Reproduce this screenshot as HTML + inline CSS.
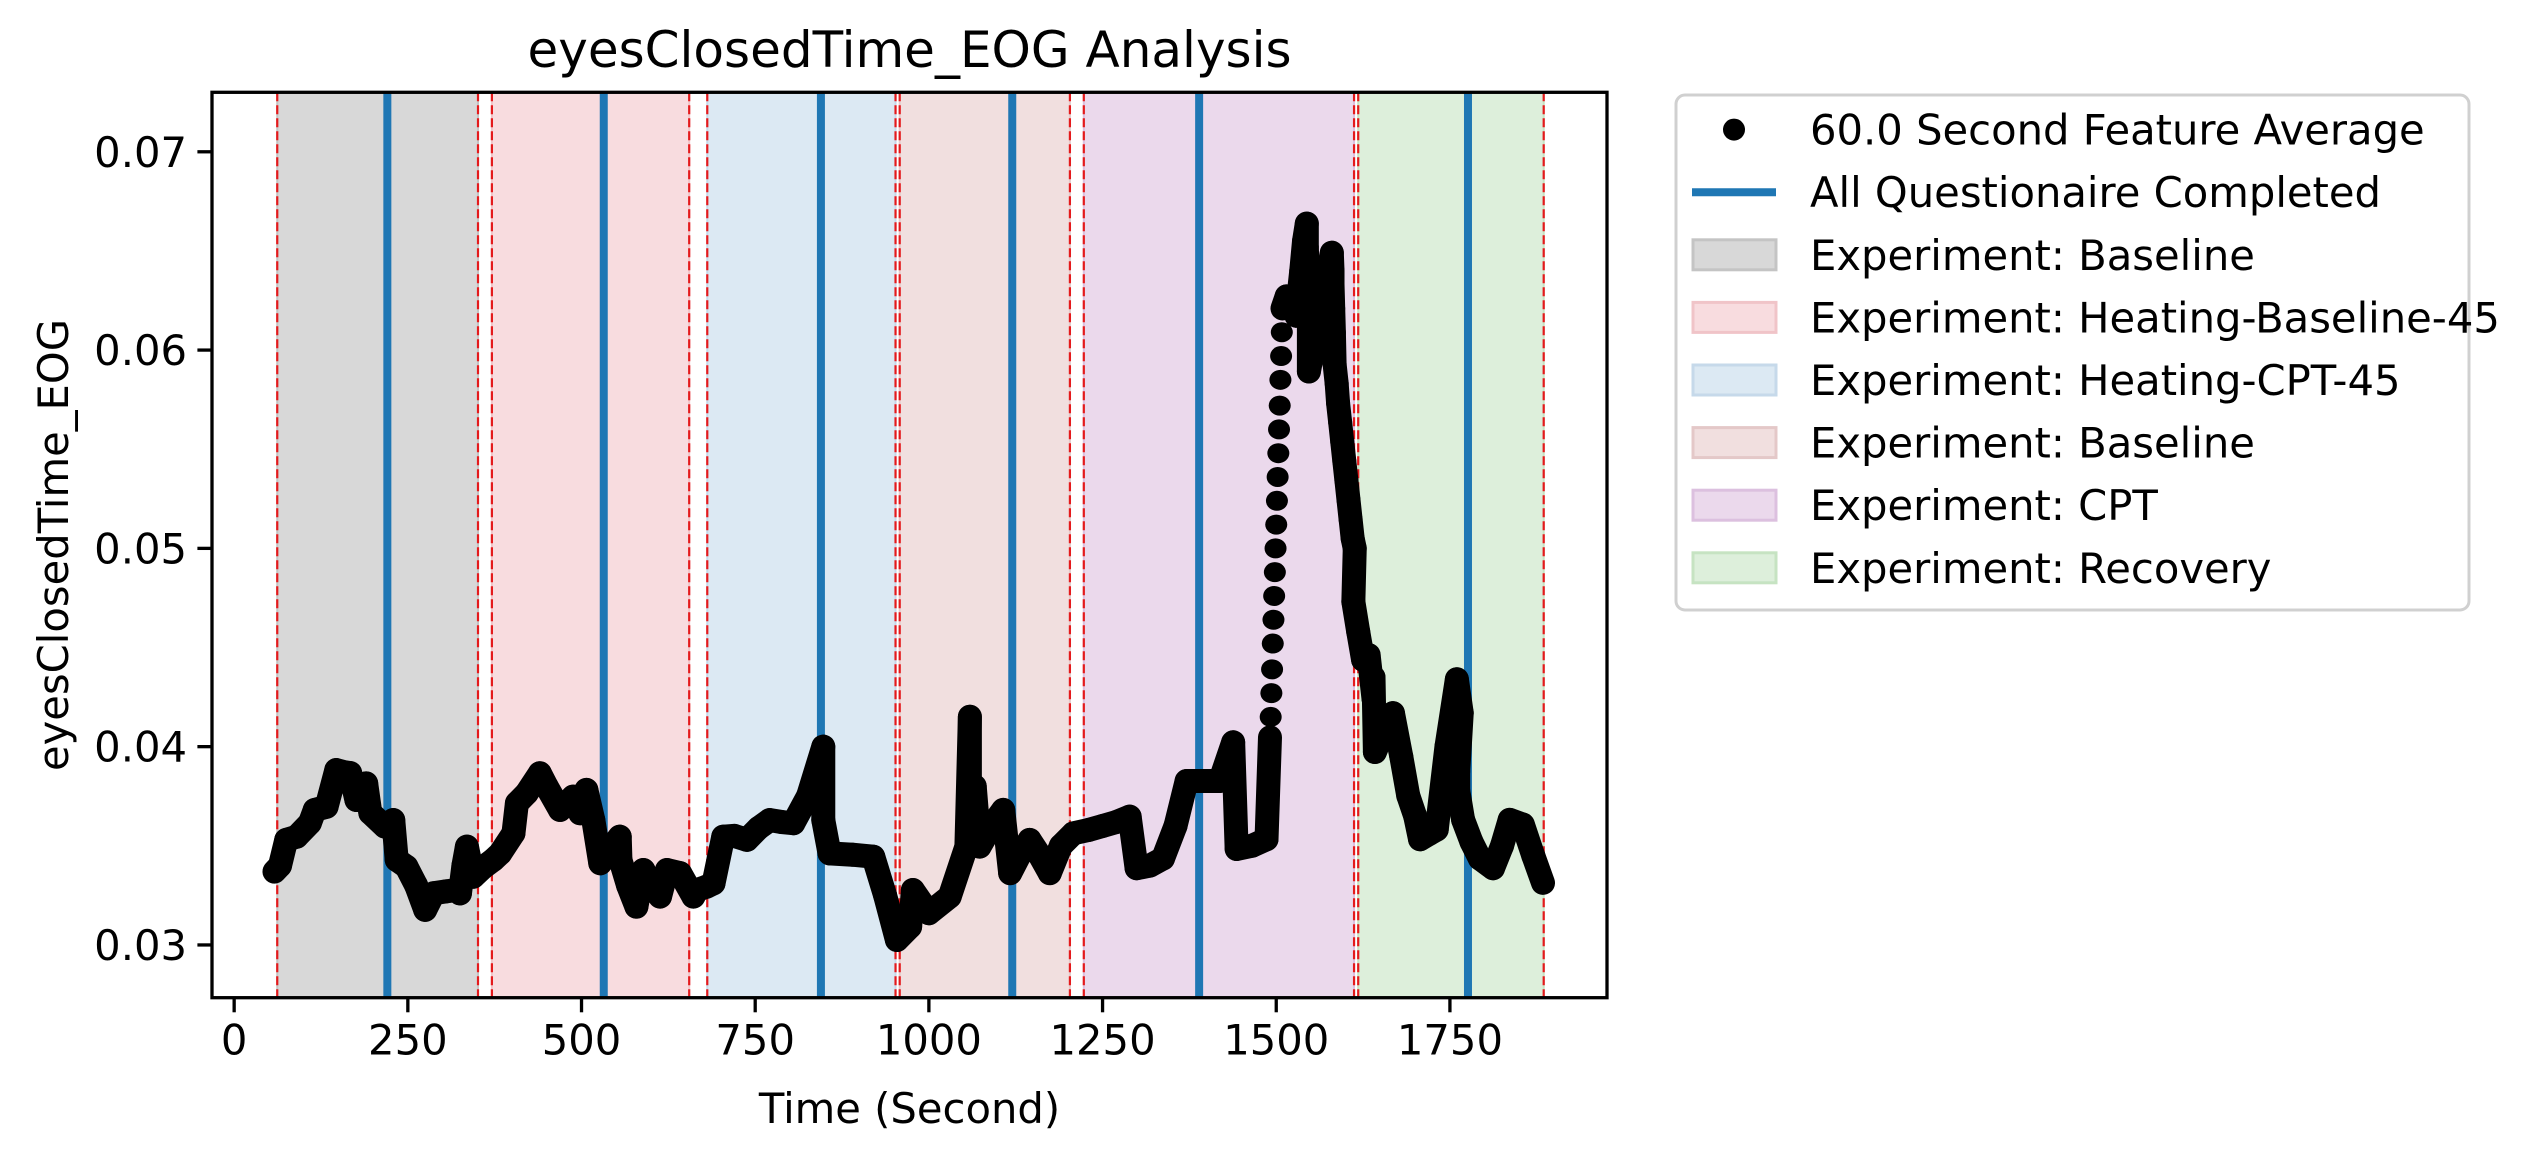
<!DOCTYPE html>
<html><head><meta charset="utf-8">
<style>
html,body{margin:0;padding:0;background:#fff;}
svg{display:block;font-family:"DejaVu Sans","Liberation Sans",sans-serif;}
</style></head>
<body>
<svg id="chart" width="2544" height="1158" viewBox="0 0 2544 1158" xmlns="http://www.w3.org/2000/svg">
<rect x="0" y="0" width="2544" height="1158" fill="#fff"/>
<g id="spans"></g>
<g id="vlines"></g>
<g id="series"></g>
<g id="axes"></g>
<g id="legend"></g>
</svg>
<script>
// ---- data ----
const spanStarts = [62, 371, 681, 958, 1223, 1618];
const spanEnds   = [351, 655, 952, 1203, 1612, 1885];
const spanLabels = ["Experiment: Baseline","Experiment: Heating-Baseline-45","Experiment: Heating-CPT-45","Experiment: Baseline","Experiment: CPT","Experiment: Recovery"];
const spanColors = ["#d8d8d8","#f8dcdf","#dce9f3","#f1dfdf","#ebd9ec","#ddefdb"];
const spanEdges  = ["#c4c4c4","#f0c4c8","#c6d9ea","#e4c8c8","#dcc0df","#c6e3c2"];
const questionTimes = [220.5, 532, 844.6, 1120, 1389, 1776];
const xTicks = [0,250,500,750,1000,1250,1500,1750];
const yTicks = [0.03,0.04,0.05,0.06,0.07];
const yTickLabels = ["0.03","0.04","0.05","0.06","0.07"];
const times = [58,66,75,90,109,116,133,147,160,167,176,190,196,217,229,234,248,262,275,287,305,320,325,330,335,344,358,373,383,402,407,421,440,450,469,488,498,507,517,527,536,555,556,567,579,589,601,613,623,642,661,666,680,690,704,720,738,755,771,788,805,826,848,848,857,890,920,937,954,973,977,1000,1030,1054,1059,1059,1066,1073,1090,1107,1117,1130,1145,1160,1174,1190,1208,1230,1250,1270,1289,1299,1318,1337,1355,1371,1395,1419,1438,1443,1465,1486,1491,
1492,1493,1494,1495,1496,1497,1498,1499,1500,1501,1502,1503,1504,1505,1506,1507,1508,1509,
1515,1522,1529,1536,1540,1544,1544,1545,1546,1547,1547,1580,1581,1581,1582,1583,
1584,1587,1589,1592,1595,1598,1601,1604,1607,1610,1613,
1611,1618,1625,1633,1640,1640,1642,1655,1668,1680,1690,1700,1707,1720,1731,1745,1760,1767,1762,1762,1769,1781,1793,1812,1825,1836,1855,1870,1884];
const values = [.0337,.0340,.0353,.03546,.03615,.03681,.03697,.03882,.03870,.03867,.03731,.03815,.03666,.03597,.0363,.03429,.03395,.0330,.03177,.03261,.03270,.03277,.0326,.0340,.03496,.03344,.0339,.03429,.03462,.03563,.03715,.03765,.03866,.03798,.03681,.03748,.03664,.03782,.0363,.03412,.03462,.03546,.03429,.0330,.03193,.03378,.0330,.03244,.03378,.03362,.03244,.03277,.03294,.03311,.03546,.0355,.0353,.0359,.0363,.0362,.03614,.0375,.0400,.0363,.03462,.03455,.03445,.0325,.03025,.03092,.03277,.0316,.03244,.03496,.04151,.03731,.0380,.03496,.0360,.03681,.03362,.0345,.0353,.0345,.03362,.0350,.03563,.0358,.0360,.0362,.03647,.03387,.0340,.03436,.0360,.03827,.03827,.03827,.04022,.03484,.0350,.03533,.04047,
.0415,.0427,.0439,.0452,.0464,.0476,.0488,.0500,.0512,.0524,.0536,.0548,.0560,.0572,.0585,.0597,.0609,.0621,
.06271,.0625,.06173,.0640,.0655,.06638,.0652,.0643,.0630,.0620,.05892,.06491,.0640,.06332,.0621,.06088,
.05929,.05831,.05733,.05636,.05538,.0544,.05343,.05245,.05147,.0505,.0500,
.04731,.0458,.04438,.04462,.04242,.0435,.03973,.0408,.04169,.0395,.03753,.0365,.03533,.0356,.03582,.0400,.0434,.0417,.03875,.03778,.03631,.0352,.03436,.03387,.0350,.03631,.03607,.0345,.03313];

// ---- scales ----
const L=212, R=1607, T=92.3, B=997.7;
const X0=-31.9, X1=1976.1, Y0=0.02734, Y1=0.0730;
const sx = t => L + (t - X0) / (X1 - X0) * (R - L);
const sy = v => B - (v - Y0) / (Y1 - Y0) * (B - T);
const NS="http://www.w3.org/2000/svg";
function mk(tag, attrs, parent){const e=document.createElementNS(NS,tag);for(const k in attrs)e.setAttribute(k,attrs[k]);parent.appendChild(e);return e;}

// spans
const gS=document.getElementById('spans');
for(let i=0;i<spanStarts.length;i++){
  const r=mk('rect',{x:sx(spanStarts[i]),y:T,width:sx(spanEnds[i])-sx(spanStarts[i]),height:B-T,fill:spanColors[i],stroke:spanEdges[i],'stroke-width':2},gS);
  
  
}
const gV=document.getElementById('vlines');
for(let i=0;i<spanStarts.length;i++){
  [spanStarts[i],spanEnds[i]].forEach(t=>{
    const l=mk('line',{x1:sx(t),x2:sx(t),y1:T,y2:B,stroke:'#e41a1c','stroke-width':2.2,'stroke-dasharray':'9 4'},gV);
    
    
  });
}
questionTimes.forEach(t=>{
  const l=mk('line',{x1:sx(t),x2:sx(t),y1:T,y2:B,stroke:'#1f77b4','stroke-width':8},gV);
  
  
});

// series
const gP=document.getElementById('series');
for(let i=1;i<times.length;i++){
  const x1=sx(times[i-1]),y1=sy(values[i-1]),x2=sx(times[i]),y2=sy(values[i]);
  const inColumn = times[i]>=1492 && times[i]<=1509;
  if(times[i]-times[i-1]<=45 && !inColumn){
    const l=mk('line',{x1:x1,y1:y1,x2:x2,y2:y2,stroke:'#000','stroke-width':24,'stroke-linecap':'round'},gP);
    
    
  }
}
for(let i=0;i<times.length;i++){
  const c=mk('ellipse',{cx:sx(times[i]),cy:sy(values[i]),rx:11,ry:10,fill:'#000'},gP);
  
  
}

// axes
const gA=document.getElementById('axes');
const frame=mk('rect',{x:L,y:T,width:R-L,height:B-T,fill:'none',stroke:'#000','stroke-width':3.3},gA);


xTicks.forEach(t=>{
  const tk=mk('line',{x1:sx(t),x2:sx(t),y1:B,y2:B+14.6,stroke:'#000','stroke-width':3.3},gA);
  
  
  const tx=mk('text',{x:sx(t),y:B+57,'font-size':41.7,'text-anchor':'middle',fill:'#000'},gA);
  tx.textContent=String(t);
  
  
});
yTicks.forEach((v,i)=>{
  const tk=mk('line',{x1:L-14.6,x2:L,y1:sy(v),y2:sy(v),stroke:'#000','stroke-width':3.3},gA);
  
  
  const tx=mk('text',{x:L-25,y:sy(v)+15,'font-size':41.7,'text-anchor':'end',fill:'#000'},gA);
  tx.textContent=yTickLabels[i];
  
  
});
const title=mk('text',{x:(L+R)/2,y:67,'font-size':50,'text-anchor':'middle',fill:'#000'},gA);
title.textContent='eyesClosedTime_EOG Analysis';


const xl=mk('text',{x:(L+R)/2,y:1123,'font-size':41.7,'text-anchor':'middle',fill:'#000'},gA);
xl.textContent='Time (Second)';


const yl=mk('text',{x:0,y:0,'font-size':41.7,'text-anchor':'middle',fill:'#000',transform:'translate(68,'+((T+B)/2)+') rotate(-90)'},gA);
yl.textContent='eyesClosedTime_EOG';



// legend
const gL=document.getElementById('legend');
const box=mk('rect',{x:1676,y:95,width:793,height:515,rx:9,fill:'#fff',stroke:'#d0d0d0','stroke-width':3},gL);


const rowY=i=>129.6+i*62.6;
const labels=['60.0 Second Feature Average','All Questionaire Completed'].concat(spanLabels);
labels.forEach((lab,i)=>{
  const y=rowY(i);
  let h;
  if(i===0){h=mk('circle',{cx:1734,cy:y,r:11,fill:'#000'},gL);}
  else if(i===1){h=mk('line',{x1:1692,x2:1776,y1:y,y2:y,stroke:'#1f77b4','stroke-width':8},gL);}
  else{h=mk('rect',{x:1693,y:y-15,width:83,height:30,fill:spanColors[i-2],stroke:spanEdges[i-2],'stroke-width':3},gL);}
  
  
  const t=mk('text',{x:1810,y:y+15,'font-size':41.7,fill:'#000'},gL);
  t.textContent=lab;
  
  
});
</script>
</body></html>
